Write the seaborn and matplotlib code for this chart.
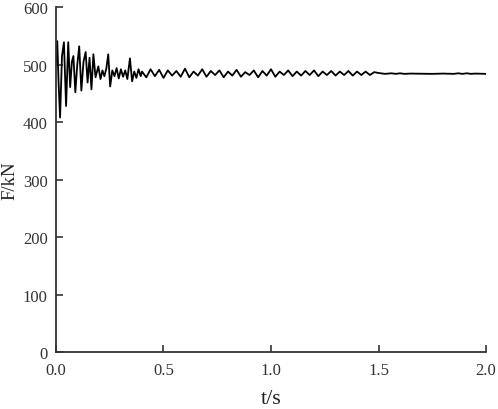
import matplotlib
matplotlib.use("Agg")
import matplotlib.pyplot as plt
import seaborn as sns
import pandas as pd

# time (s) and force (kN)
t_early = [0.000, 0.006, 0.012, 0.019, 0.028, 0.037, 0.047, 0.057, 0.066, 0.074,
           0.081, 0.090, 0.099, 0.108, 0.118, 0.128, 0.138, 0.147, 0.156, 0.165,
           0.174, 0.184, 0.197, 0.207, 0.216, 0.225, 0.234, 0.243, 0.252, 0.262,
           0.272, 0.282, 0.292, 0.302, 0.312, 0.322, 0.332, 0.344, 0.354, 0.364,
           0.374, 0.384, 0.394]
f_early = [502, 541, 470, 408, 515, 539, 428, 539, 461, 505,
           515, 452, 500, 532, 455, 505, 522, 469, 512, 457,
           518, 478, 497, 475, 490, 480, 493, 518, 462, 490,
           480, 494, 476, 492, 479, 490, 475, 511, 471, 488,
           477, 492, 480]

t_mid = [0.40, 0.42, 0.44, 0.46, 0.48, 0.50, 0.52, 0.54, 0.56, 0.58,
         0.60, 0.62, 0.64, 0.66, 0.68, 0.70, 0.72, 0.74, 0.76, 0.78,
         0.80, 0.82, 0.84, 0.86, 0.88, 0.90, 0.92, 0.94, 0.96, 0.98,
         1.00, 1.02, 1.04, 1.06, 1.08, 1.10, 1.12, 1.14, 1.16, 1.18,
         1.20, 1.22, 1.24, 1.26, 1.28, 1.30, 1.32, 1.34, 1.36, 1.38,
         1.40, 1.42, 1.44, 1.46, 1.48]
f_mid = [488, 478, 492, 480, 491, 477, 490, 481, 489, 479,
         493, 478, 488, 481, 492, 479, 489, 482, 490, 478,
         488, 481, 491, 479, 487, 482, 490, 478, 489, 481,
         492, 479, 488, 482, 490, 480, 488, 481, 489, 482,
         490, 480, 488, 482, 489, 481, 488, 482, 489, 481,
         488, 482, 488, 482, 487]

t_late = [1.50, 1.53, 1.56, 1.58, 1.60, 1.62, 1.65, 1.75, 1.80, 1.85,
          1.87, 1.89, 1.91, 1.93, 1.95, 2.00]
f_late = [485.5, 484, 485, 484, 485, 484, 484.5, 484, 484.5, 484,
          485, 484, 485, 484, 484.5, 484]

x_ticks = [0.0, 0.5, 1.0, 1.5, 2.0]
x_tick_labels = ["0.0", "0.5", "1.0", "1.5", "2.0"]
y_ticks = [0, 100, 200, 300, 400, 500, 600]

df = pd.DataFrame({"t": t_early + t_mid + t_late,
                   "F": f_early + f_mid + f_late})

sns.set_style("ticks")
plt.rcParams["font.family"] = ["Liberation Serif", "DejaVu Serif"]

fig = plt.figure(figsize=(4.98, 4.10), dpi=100)
ax = fig.add_axes([0.1124, 0.139, 0.976 - 0.1124, 0.980 - 0.139])
sns.lineplot(data=df, x="t", y="F", ax=ax, color="black", linewidth=1.3,
             sort=False, estimator=None)

ax.set_xlim(0, 2.0)
ax.set_ylim(0, 600)
ax.set_xticks(x_ticks)
ax.set_xticklabels(x_tick_labels)
ax.set_yticks(y_ticks)
for s in ["top", "right"]:
    ax.spines[s].set_visible(False)
for s in ["left", "bottom"]:
    ax.spines[s].set_color("#333333")
    ax.spines[s].set_linewidth(1.3)
ax.tick_params(direction="in", length=5, width=1.2, colors="#333333",
               labelsize=12, labelcolor="#333333")
ax.tick_params(axis="x", pad=7)
ax.tick_params(axis="y", pad=6)
ax.set_xlabel("t/s", fontsize=16, color="#222222", labelpad=8)
ax.set_ylabel("F/kN", fontsize=13.5, color="#222222")
ax.yaxis.set_label_coords(-0.088, 0.5)

fig.savefig("out.png", dpi=100)
